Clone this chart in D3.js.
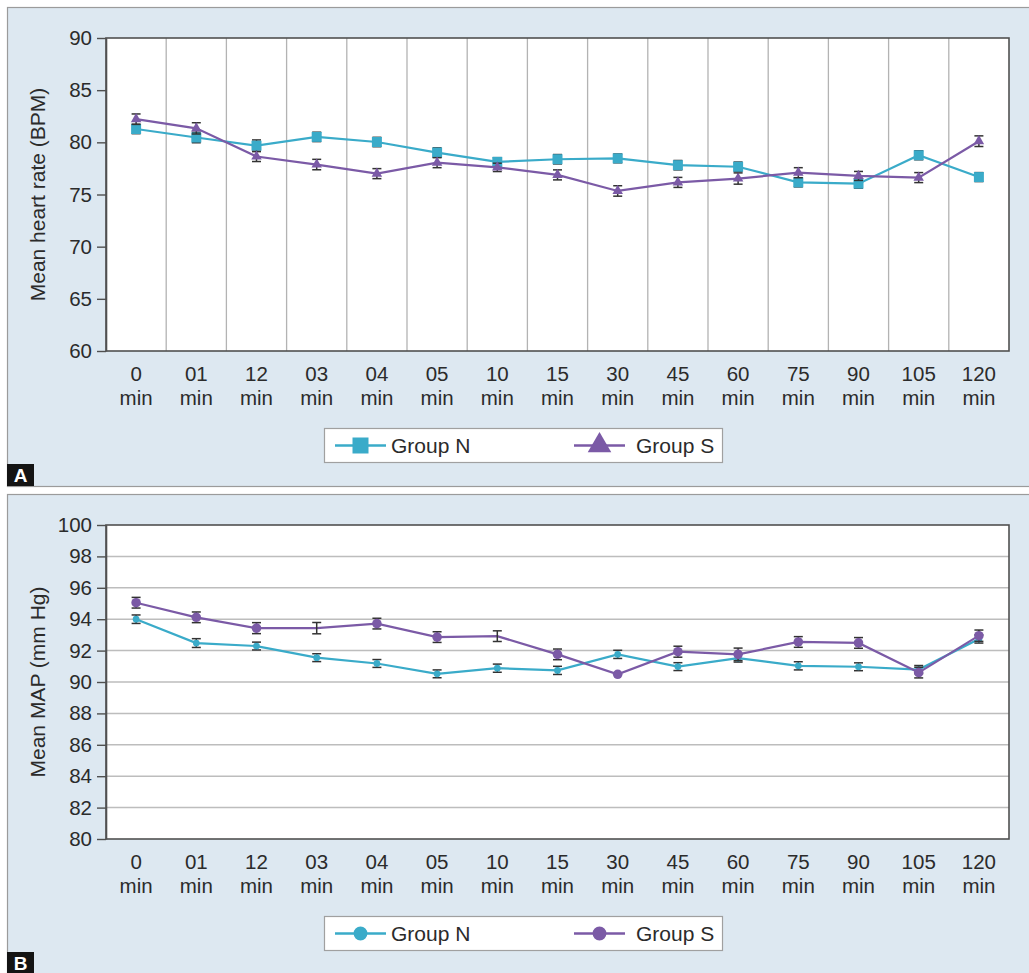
<!DOCTYPE html>
<html>
<head>
<meta charset="utf-8">
<script src="https://cdn.jsdelivr.net/npm/d3@7"></script>
<style>
  html, body { margin: 0; padding: 0; background: #ffffff; }
  svg { display: block; font-family: "Liberation Sans", Arial, Helvetica, sans-serif; }
</style>
</head>
<body>
<svg id="chart" width="1029" height="973"></svg>
<script>
// Measurement times (second label line is "min")
const timePoints = ["0", "01", "12", "03", "04", "05", "10", "15", "30", "45", "60", "75", "90", "105", "120"];

// Panel A: mean heart rate (BPM) with SE
const hrGroupN    = [81.28, 80.46, 79.68, 80.52, 80.03, 79.02, 78.13, 78.38, 78.46, 77.81, 77.66, 76.16, 76.04, 78.76, 76.67];
const hrGroupNErr = [0.45, 0.50, 0.55, 0.45, 0.45, 0.45, 0.40, 0.45, 0.42, 0.45, 0.45, 0.43, 0.43, 0.43, 0.43];
const hrGroupS    = [82.22, 81.34, 78.64, 77.87, 77.00, 78.05, 77.60, 76.88, 75.34, 76.16, 76.53, 77.09, 76.78, 76.62, 80.11];
const hrGroupSErr = [0.50, 0.54, 0.48, 0.50, 0.48, 0.48, 0.40, 0.48, 0.50, 0.48, 0.54, 0.48, 0.43, 0.48, 0.51];
const hrTicks = [60, 65, 70, 75, 80, 85, 90];

// Panel B: mean arterial pressure (mm Hg) with SE
const mapGroupN    = [94.00, 92.48, 92.29, 91.55, 91.18, 90.52, 90.88, 90.74, 91.76, 90.98, 91.52, 91.03, 90.97, 90.79, 92.74];
const mapGroupNErr = [0.27, 0.28, 0.25, 0.25, 0.25, 0.25, 0.26, 0.26, 0.26, 0.25, 0.25, 0.26, 0.25, 0.26, 0.26];
const mapGroupS    = [95.05, 94.12, 93.43, 93.43, 93.72, 92.86, 92.92, 91.76, 90.49, 91.93, 91.76, 92.55, 92.49, 90.60, 92.95];
const mapGroupSErr = [0.34, 0.34, 0.35, 0.36, 0.34, 0.34, 0.34, 0.34, 0.00, 0.35, 0.40, 0.34, 0.34, 0.34, 0.36];
const mapGroupSMarker = [true, true, true, false, true, true, false, true, true, true, true, true, true, true, true];
const mapTicks = [80, 82, 84, 86, 88, 90, 92, 94, 96, 98, 100];

const seriesNames = ["Group N", "Group S"];

const COLOR_N = "#3aabc9";
const COLOR_S = "#7b5aa6";
const PANEL_BG = "#dde8f1";
const INK = "#2b2b2b";

const svg = d3.select("#chart");
const plotLeft = 106, plotRight = 1009;

const x = d3.scaleBand().domain(timePoints).range([plotLeft, plotRight]);
const cx = d => x(d) + x.bandwidth() / 2;

function markerPath(shape, size) {
  const sym = shape === "square" ? d3.symbolSquare : shape === "triangle" ? d3.symbolTriangle : d3.symbolCircle;
  return d3.symbol().type(sym).size(size)();
}

function drawPanel(cfg) {
  const g = svg.append("g");

  // panel background
  g.append("rect")
    .attr("x", 7.5).attr("y", cfg.panelTop + 0.5)
    .attr("width", 1040).attr("height", cfg.panelHeight)
    .attr("fill", PANEL_BG).attr("stroke", "#9b9b9b").attr("stroke-width", 1.2);

  const y = d3.scaleLinear().domain(cfg.domain).range([cfg.bottom, cfg.top]);

  // plot area
  g.append("rect")
    .attr("x", plotLeft).attr("y", cfg.top)
    .attr("width", plotRight - plotLeft).attr("height", cfg.bottom - cfg.top)
    .attr("fill", "#ffffff");

  if (cfg.verticalGrid) {
    g.append("g").selectAll("line")
      .data(timePoints.slice(1))
      .join("line")
      .attr("x1", d => x(d)).attr("x2", d => x(d))
      .attr("y1", cfg.top).attr("y2", cfg.bottom)
      .attr("stroke", "#b3b3b3").attr("stroke-width", 1.3);
  }
  if (cfg.horizontalGrid) {
    g.append("g").selectAll("line")
      .data(cfg.ticks.slice(1, -1))
      .join("line")
      .attr("x1", plotLeft).attr("x2", plotRight)
      .attr("y1", d => y(d)).attr("y2", d => y(d))
      .attr("stroke", "#bdbdbd").attr("stroke-width", 1.5);
  }

  // frame
  g.append("rect")
    .attr("x", plotLeft).attr("y", cfg.top)
    .attr("width", plotRight - plotLeft).attr("height", cfg.bottom - cfg.top)
    .attr("fill", "none").attr("stroke", "#505050").attr("stroke-width", 1.6);

  // y axis
  const ya = g.append("g")
    .attr("transform", `translate(${plotLeft},0)`)
    .call(d3.axisLeft(y).tickValues(cfg.ticks).tickSize(9).tickSizeOuter(0).tickPadding(5));
  ya.select(".domain").attr("stroke", "#505050").attr("stroke-width", 1.6);
  ya.selectAll(".tick line").attr("stroke", "#505050").attr("stroke-width", 1.4);
  ya.selectAll(".tick text")
    .attr("font-size", 20.5).attr("fill", INK)
    .attr("font-family", "Liberation Sans, Arial, sans-serif");

  // y title
  g.append("text")
    .attr("transform", `translate(45,${(cfg.top + cfg.bottom) / 2}) rotate(-90)`)
    .attr("text-anchor", "middle")
    .attr("font-size", 21).attr("fill", INK)
    .text(cfg.yTitle);

  // x axis labels (two lines)
  const xa = g.append("g")
    .attr("transform", `translate(0,${cfg.bottom})`)
    .call(d3.axisBottom(x).tickSize(0).tickPadding(0));
  xa.select(".domain").remove();
  xa.selectAll(".tick text").each(function(d) {
    const t = d3.select(this);
    t.text(null).attr("y", null).attr("dy", null)
      .attr("font-size", 20.5).attr("fill", INK)
      .attr("font-family", "Liberation Sans, Arial, sans-serif");
    t.append("tspan").attr("x", 0).attr("y", 30).text(d);
    t.append("tspan").attr("x", 0).attr("y", 54).text("min");
  });

  // series
  cfg.series.forEach(s => {
    const pts = timePoints.map((t, i) => ({ t, v: s.values[i], e: s.errors[i], show: s.shown ? s.shown[i] : true }));
    const sg = g.append("g");

    sg.append("path")
      .datum(pts)
      .attr("fill", "none")
      .attr("stroke", s.color)
      .attr("stroke-width", 2.2)
      .attr("d", d3.line().x(d => cx(d.t)).y(d => y(d.v)));

    const eb = sg.append("g").selectAll("g")
      .data(pts.filter(d => d.e > 0))
      .join("g")
      .attr("stroke", "#333333").attr("stroke-width", 1.5);
    eb.append("line")
      .attr("x1", d => cx(d.t)).attr("x2", d => cx(d.t))
      .attr("y1", d => y(d.v + d.e)).attr("y2", d => y(d.v - d.e));
    eb.append("line")
      .attr("x1", d => cx(d.t) - 4.5).attr("x2", d => cx(d.t) + 4.5)
      .attr("y1", d => y(d.v + d.e)).attr("y2", d => y(d.v + d.e));
    eb.append("line")
      .attr("x1", d => cx(d.t) - 4.5).attr("x2", d => cx(d.t) + 4.5)
      .attr("y1", d => y(d.v - d.e)).attr("y2", d => y(d.v - d.e));

    sg.append("g").selectAll("path")
      .data(pts.filter(d => d.show))
      .join("path")
      .attr("transform", d => `translate(${cx(d.t)},${y(d.v)})`)
      .attr("d", markerPath(s.marker, s.markerSize))
      .attr("fill", s.color);
  });

  // legend
  const lg = g.append("g").attr("transform", `translate(0,${cfg.bottom})`);
  lg.append("rect")
    .attr("x", 324.5).attr("y", 77.5).attr("width", 398).attr("height", 34)
    .attr("fill", "#ffffff").attr("stroke", "#a0a0a0").attr("stroke-width", 1.2);
  const legendLineX = [335, 574];
  const legendTextX = [391, 636];
  cfg.series.forEach((s, i) => {
    const lx = legendLineX[i], ly = 94.5;
    lg.append("line")
      .attr("x1", lx).attr("x2", lx + 51).attr("y1", ly).attr("y2", ly)
      .attr("stroke", s.color).attr("stroke-width", 2.4);
    lg.append("path")
      .attr("transform", `translate(${lx + 25.5},${ly})`)
      .attr("d", markerPath(s.marker, s.legendSize))
      .attr("fill", s.color);
    lg.append("text")
      .attr("x", legendTextX[i]).attr("y", ly + 7.5)
      .attr("font-size", 21).attr("fill", INK)
      .text(seriesNames[i]);
  });

  // panel tag
  g.append("rect")
    .attr("x", 7).attr("y", cfg.tagTop).attr("width", 27).attr("height", 22)
    .attr("fill", "#141414");
  g.append("text")
    .attr("x", 20.5).attr("y", cfg.tagTop + 18)
    .attr("text-anchor", "middle")
    .attr("font-size", 19).attr("font-weight", "bold").attr("fill", "#ffffff")
    .text(cfg.tag);
}

drawPanel({
  panelTop: 7, panelHeight: 479,
  top: 38, bottom: 351,
  domain: [60, 90], ticks: hrTicks,
  yTitle: "Mean heart rate (BPM)",
  verticalGrid: true, horizontalGrid: false,
  tag: "A", tagTop: 464,
  series: [
    { values: hrGroupN, errors: hrGroupNErr, color: COLOR_N, marker: "square", markerSize: 100, legendSize: 256 },
    { values: hrGroupS, errors: hrGroupSErr, color: COLOR_S, marker: "triangle", markerSize: 48, legendSize: 240 }
  ]
});

drawPanel({
  panelTop: 494, panelHeight: 500,
  top: 525, bottom: 839,
  domain: [80, 100], ticks: mapTicks,
  yTitle: "Mean MAP (mm Hg)",
  verticalGrid: false, horizontalGrid: true,
  tag: "B", tagTop: 952,
  series: [
    { values: mapGroupN, errors: mapGroupNErr, color: COLOR_N, marker: "circle", markerSize: 36, legendSize: 150 },
    { values: mapGroupS, errors: mapGroupSErr, color: COLOR_S, marker: "circle", markerSize: 72, legendSize: 150, shown: mapGroupSMarker }
  ]
});
</script>
</body>
</html>
